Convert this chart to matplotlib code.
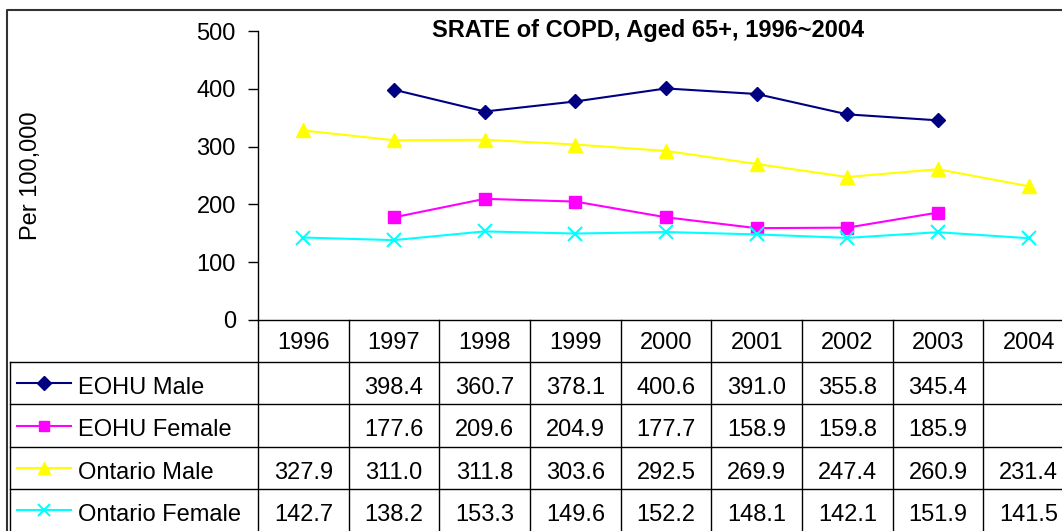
import matplotlib.pyplot as plt
import matplotlib.transforms as mtransforms
from matplotlib.lines import Line2D
import numpy as np

plt.rcParams["font.family"] = ["Liberation Sans", "DejaVu Sans"]

# ------------------------------------------------------------
# data
# ------------------------------------------------------------
years = ["1996", "1997", "1998", "1999", "2000", "2001", "2002", "2003", "2004"]
eohu_male = [None, 398.4, 360.7, 378.1, 400.6, 391.0, 355.8, 345.4, None]
eohu_female = [None, 177.6, 209.6, 204.9, 177.7, 158.9, 159.8, 185.9, None]
ontario_male = [327.9, 311.0, 311.8, 303.6, 292.5, 269.9, 247.4, 260.9, 231.4]
ontario_female = [142.7, 138.2, 153.3, 149.6, 152.2, 148.1, 142.1, 151.9, 141.5]

series_names = ["EOHU Male", "EOHU Female", "Ontario Male", "Ontario Female"]
series_values = [eohu_male, eohu_female, ontario_male, ontario_female]
series_styles = [
    dict(color="#000080", marker="D", ms=7.5, mew=1),
    dict(color="#FF00FF", marker="s", ms=8.5, mew=1),
    dict(color="#FFFF00", marker="^", ms=10, mew=1),
    dict(color="#00FFFF", marker="x", ms=10, mew=1.5),
]

W, H = 1062, 531
FS = 17


def fx(px):
    return px / W


def fy(py):
    return 1 - py / H


fig = plt.figure(figsize=(W / 100, H / 100), dpi=100)

# plot area (right edge runs past the picture, as in the reference)
left_px, right_px, top_px, bot_px = 258, 1074, 31, 320
ax = fig.add_axes([fx(left_px), fy(bot_px), fx(right_px - left_px),
                   (bot_px - top_px) / H])

x = np.arange(len(years))
for vals, style in zip(series_values, series_styles):
    y = np.array([np.nan if v is None else v for v in vals])
    ax.plot(x, y, lw=1.5, mfc=style["color"], mec=style["color"], **style)

ax.set_xlim(-0.5, len(years) - 0.5)
ax.set_ylim(0, 500)
ax.set_yticks(range(0, 501, 100))
ax.set_xticks([])
ax.tick_params(axis="y", length=7, width=1, labelsize=FS, pad=9)
ax.spines["top"].set_visible(False)
ax.spines["right"].set_visible(False)
for s in ["left", "bottom"]:
    ax.spines[s].set_color("black")
    ax.spines[s].set_linewidth(1)

fig.text(fx(31), fy(176), "Per 100,000", rotation=90, ha="center", va="center",
         fontsize=FS)
fig.text(fx(648), fy(31), "SRATE of COPD, Aged 65+, 1996~2004", ha="center",
         va="center", fontsize=FS, fontweight="bold")

# ------------------------------------------------------------
# data table under the plot
# ------------------------------------------------------------
tr = mtransforms.blended_transform_factory(ax.transData, fig.transFigure)
row_edges = [320, 362, 404, 447, 489, 531]
lk = dict(color="black", lw=1, clip_on=False)

# horizontal rules
for py in row_edges[1:-1]:
    fig.add_artist(Line2D([fx(10), fx(right_px)], [fy(py), fy(py)],
                          transform=fig.transFigure, **lk))
# column rules
for i in range(len(years) + 1):
    fig.add_artist(Line2D([i - 0.5, i - 0.5], [fy(320), fy(H + 5)],
                          transform=tr, **lk))
# legend column left edge
fig.add_artist(Line2D([fx(10), fx(10)], [fy(362), fy(H + 5)],
                      transform=fig.transFigure, **lk))

# header row
for i, yr in enumerate(years):
    fig.text(i, fy(343), yr, transform=tr, ha="center", va="center", fontsize=FS)

# body rows
for r, (name, vals, style) in enumerate(zip(series_names, series_values,
                                            series_styles)):
    mid = (row_edges[r + 1] + row_edges[r + 2]) / 2
    cy = fy(mid)
    ty = fy(mid + 5)
    fig.add_artist(Line2D([fx(17), fx(71)], [cy, cy], transform=fig.transFigure,
                          lw=1.5, color=style["color"]))
    fig.add_artist(Line2D([fx(44)], [cy], transform=fig.transFigure,
                          marker=style["marker"], ms=style["ms"] * 0.9,
                          mew=style["mew"], mfc=style["color"],
                          mec=style["color"], ls="none"))
    fig.text(fx(78), ty, name, ha="left", va="center", fontsize=FS)
    for i, v in enumerate(vals):
        if v is not None:
            fig.text(i, ty, f"{v:.1f}", transform=tr, ha="center", va="center",
                     fontsize=FS)

# outer chart frame
fig.add_artist(Line2D([fx(7), fx(7), fx(W + 5)], [fy(H + 5), fy(10), fy(10)],
                      transform=fig.transFigure, color="#333333", lw=1.5))

fig.savefig("out.png", dpi=100)
